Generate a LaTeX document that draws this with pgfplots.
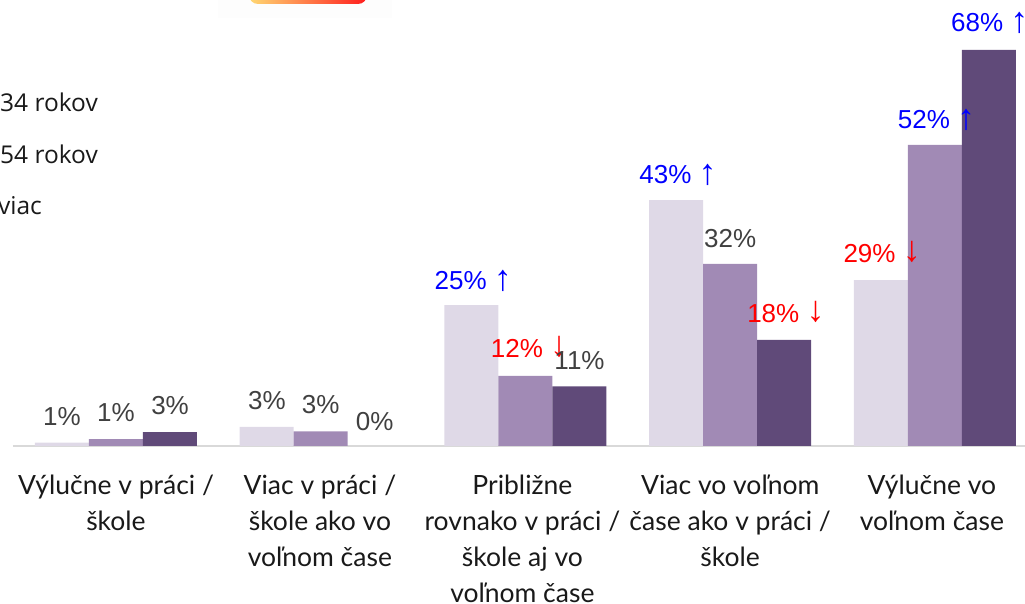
\documentclass[border=0pt]{standalone}
\usepackage{pgfplots}
\pgfplotsset{compat=1.18}
\usepackage{fontspec}
\setmainfont{Lato}
\newfontfamily\lab{Liberation Sans}
\newfontfamily\leg{Open Sans}
\definecolor{c1}{HTML}{DFD9E7}
\definecolor{c2}{HTML}{A18AB5}
\definecolor{c3}{HTML}{604A79}
\definecolor{lg}{HTML}{404040}
\newcommand{\ua}{{\fontsize{36}{30}\selectfont\raisebox{-1pt}{↑}}}
\newcommand{\da}{{\fontsize{36}{30}\selectfont\raisebox{1pt}{↓}}}
\newcommand{\vl}[3]{\node[text=#3,font=\lab\fontsize{26}{30}\selectfont,inner sep=0pt,anchor=center] at (axis cs:#1) {#2};}
\begin{document}
\begin{tikzpicture}[x=1pt,y=1pt]
\useasboundingbox (0,0) rectangle (1025,604);
\clip (0,0) rectangle (1025,604);
% logo fragment at the top edge
\fill[black!0.7] (218,586) rectangle (392,612);
\shade[left color=yellow!45!orange!55,middle color=orange!65,right color=red!85!pink,rounded corners=9pt]
  (249,600) rectangle (367,625);
\node[anchor=east,inner sep=0pt,font=\leg\fontsize{24.5}{28}\selectfont,text=black!90] at (98,502) {25-34 rokov};
\node[anchor=east,inner sep=0pt,font=\leg\fontsize{24.5}{28}\selectfont,text=black!90] at (98,450) {35-54 rokov};
\node[anchor=east,inner sep=0pt,font=\leg\fontsize{24.5}{28}\selectfont,text=black!90] at (42,398) {55 a viac};
\begin{axis}[
  at={(13pt,158pt)},anchor=south west,
  scale only axis,width=1012pt,height=446pt,
  xmin=-0.503,xmax=4.44,ymin=0,ymax=76.9,
  axis y line=none,
  axis x line*=bottom,
  x axis line style={draw=black!15,line width=2pt,-},
  xtick={0,0.996,1.985,3,3.985},
  xticklabels={{Výlučne v práci /\\ škole},{Viac v práci /\\ škole ako vo\\ voľnom čase},{Približne\\ rovnako v práci /\\ škole aj vo\\ voľnom čase},{Viac vo voľnom\\ čase ako v práci /\\ škole},{Výlučne vo\\ voľnom čase}},
  x tick label style={align=center,font=\fontsize{26.5}{36}\selectfont,text=black!90,yshift=-25pt},
  major tick length=0pt,
  clip=false,
  ybar,
]
\addplot[ybar,bar width=54pt,bar shift=-54pt,fill=c1,draw=none] coordinates {(0,0.6)(1,3.3)(2,24.3)(3,42.4)(4,28.6)};
\addplot[ybar,bar width=54pt,bar shift=0pt,fill=c2,draw=none] coordinates {(0,1.2)(1,2.5)(2,12.1)(3,31.4)(4,51.9)};
\addplot[ybar,bar width=54pt,bar shift=54pt,fill=c3,draw=none] coordinates {(0,2.4)(2,10.3)(3,18.3)(4,68.3)};
\vl{-0.264,5}{1\%}{lg}
\vl{0,5.7}{1\%}{lg}
\vl{0.264,6.9}{3\%}{lg}
\vl{0.737,7.8}{3\%}{lg}
\vl{1,7.1}{3\%}{lg}
\vl{1.264,4.3}{0\%}{lg}
\vl{1.745,28.5}{25\% \ua}{blue}
\vl{2.02,17}{12\% \da}{red}
\vl{2.264,14.8}{11\%}{lg}
\vl{2.745,46.75}{43\% \ua}{blue}
\vl{3,35.8}{32\%}{lg}
\vl{3.272,23.1}{18\% \da}{red}
\vl{3.742,33.4}{29\% \da}{red}
\vl{4.008,56.3}{52\% \ua}{blue}
\vl{4.268,72.9}{68\% \ua}{blue}
\end{axis}
\end{tikzpicture}
\end{document}
